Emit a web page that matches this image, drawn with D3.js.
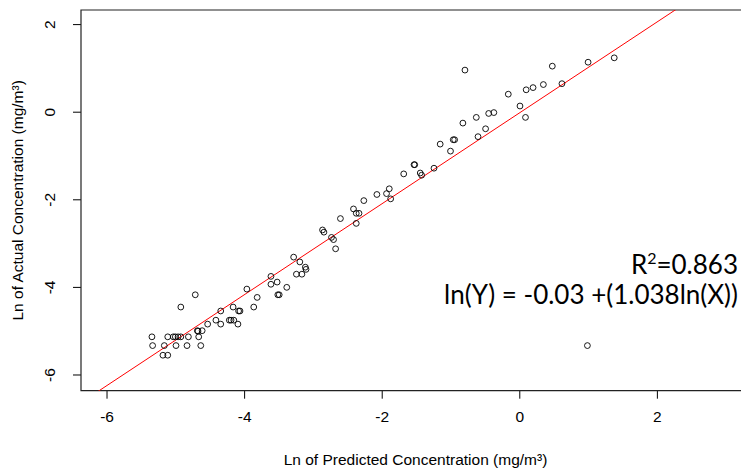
<!DOCTYPE html>
<html>
<head>
<meta charset="utf-8">
<script src="https://cdn.jsdelivr.net/npm/d3@7"></script>
<style>
  body { margin: 0; background: #fff; }
  svg { display: block; }
  .tick text { font-family: "Liberation Sans", Arial, sans-serif; }
</style>
</head>
<body>
<div id="chart"></div>
<script>
// Ln predicted (x) and ln actual (y) concentrations
const predicted = [
  -5.34, -5.33, -5.18, -5.11, -5.16, -5.11, -5.03, -5.00, -4.96, -4.92,
  -4.99, -4.92, -4.83, -4.81, -4.71, -4.68, -4.67, -4.66, -4.63, -4.61,
  -4.53, -4.41, -4.34, -4.34, -4.215, -4.19, -4.15, -4.16, -4.08, -4.06,
  -4.09, -3.96, -3.86, -3.81, -3.61, -3.61, -3.52, -3.51, -3.49, -3.38,
  -3.28, -3.24, -3.19, -3.16, -3.11, -3.10, -2.86, -2.84, -2.73, -2.70,
  -2.67, -2.60, -2.41, -2.37, -2.37, -2.33, -2.26, -2.07, -1.93, -1.89,
  -1.87, -1.68, -1.53, -1.52, -1.44, -1.42, -1.24, -1.15, -1.00, -0.96,
  -0.94, -0.82, -0.79, -0.625, -0.60, -0.49, -0.445, -0.37, -0.16, 0.01,
  0.09, 0.10, 0.20, 0.35, 0.48, 0.62, 1.00, 1.38, 0.99
];
const actual = [
  -5.14, -5.34, -5.56, -5.56, -5.34, -5.14, -5.14, -5.14, -5.14, -5.14,
  -5.34, -4.46, -5.34, -5.14, -4.18, -5.00, -5.01, -5.14, -5.34, -5.00,
  -4.85, -4.76, -4.55, -4.85, -4.76, -4.76, -4.76, -4.46, -4.55, -4.55,
  -4.85, -4.05, -4.46, -4.24, -3.76, -3.94, -3.89, -4.18, -4.18, -4.01,
  -3.32, -3.71, -3.43, -3.71, -3.55, -3.60, -2.70, -2.75, -2.87, -2.92,
  -3.13, -2.44, -2.22, -2.55, -2.32, -2.32, -2.03, -1.89, -1.87, -1.76,
  -1.99, -1.42, -1.21, -1.21, -1.40, -1.45, -1.29, -0.74, -0.90, -0.64,
  -0.64, -0.26, 0.95, -0.13, -0.57, -0.39, -0.04, -0.02, 0.40, 0.13,
  -0.13, 0.50, 0.55, 0.62, 1.04, 0.64, 1.13, 1.23, -5.34
];
const xTicks = [-6, -4, -2, 0, 2];
const yTicks = [-6, -4, -2, 0, 2];
const intercept = -0.03;
const slope = 1.038;
const r2Label = "0.863";
const eqLabel = "ln(Y) = -0.03 +(1.038ln(X))";

const width = 741, height = 468;
const margin = {top: 10, left: 81, bottom: 77.3};
const plotRight = 770.4; // frame runs off the right side of the picture

const svg = d3.select("#chart").append("svg")
    .attr("width", width)
    .attr("height", height);

const x = d3.scaleLinear()
    .domain([-6.371, 3.65])
    .range([margin.left, plotRight]);

const y = d3.scaleLinear()
    .domain([-6.37, 2.322])
    .range([height - margin.bottom, margin.top]);

const data = predicted.map((p, i) => ({x: p, y: actual[i]}));

svg.append("clipPath").attr("id", "plot-clip")
  .append("rect")
    .attr("x", margin.left)
    .attr("y", margin.top)
    .attr("width", plotRight - margin.left)
    .attr("height", y.range()[0] - margin.top);

// X axis
const xAxis = svg.append("g")
    .attr("transform", `translate(0,${y.range()[0]})`)
    .call(d3.axisBottom(x).tickValues(xTicks).tickSize(8).tickPadding(12).tickFormat(d => d));
xAxis.select(".domain").remove();
xAxis.selectAll(".tick line").attr("stroke", "#000");
xAxis.selectAll(".tick text").attr("font-size", 15.5).attr("fill", "#000");

// Y axis, labels rotated like R's default
const yAxis = svg.append("g")
    .attr("transform", `translate(${margin.left},0)`)
    .call(d3.axisLeft(y).tickValues(yTicks).tickSize(8).tickFormat(d => d));
yAxis.select(".domain").remove();
yAxis.selectAll(".tick line").attr("stroke", "#000");
yAxis.selectAll(".tick text")
    .attr("font-size", 15.5)
    .attr("fill", "#000")
    .attr("x", null).attr("dy", null)
    .attr("text-anchor", "middle")
    .attr("dominant-baseline", "central")
    .attr("transform", "translate(-32,0) rotate(-90)");

// Frame
svg.append("path")
    .attr("d", `M${plotRight},${margin.top}H${margin.left}V${y.range()[0]}H${plotRight}`)
    .attr("fill", "none")
    .attr("stroke", "#222")
    .attr("stroke-width", 1.2);

// Fitted line
svg.append("line")
    .attr("clip-path", "url(#plot-clip)")
    .attr("x1", x(-6.4)).attr("y1", y(intercept + slope * -6.4))
    .attr("x2", x(3)).attr("y2", y(intercept + slope * 3))
    .attr("stroke", "red")
    .attr("stroke-width", 1);

// Points
svg.selectAll("circle.pt")
    .data(data)
    .enter()
    .append("circle")
    .attr("class", "pt")
    .attr("cx", d => x(d.x))
    .attr("cy", d => y(d.y))
    .attr("r", 2.9)
    .attr("fill", "none")
    .attr("stroke", "#000")
    .attr("stroke-width", 0.9);

// Axis titles
svg.append("text")
    .attr("x", 415.5)
    .attr("y", 459)
    .attr("text-anchor", "middle")
    .attr("dominant-baseline", "central")
    .attr("font-family", "Liberation Sans, Arial, sans-serif")
    .attr("font-size", 15.5)
    .text("Ln of Predicted Concentration (mg/m³)");

svg.append("text")
    .attr("transform", `translate(17,${(margin.top + y.range()[0]) / 2}) rotate(-90)`)
    .attr("text-anchor", "middle")
    .attr("dominant-baseline", "central")
    .attr("font-family", "Liberation Sans, Arial, sans-serif")
    .attr("font-size", 15.5)
    .text("Ln of Actual Concentration (mg/m³)");

// Annotation
const ann = svg.append("g")
    .attr("font-family", "Lato, 'Open Sans', sans-serif")
    .attr("font-size", 26)
    .attr("fill", "#000");

const r2 = ann.append("text")
    .attr("x", 738)
    .attr("y", 274)
    .attr("text-anchor", "end");
r2.append("tspan").text("R");
r2.append("tspan").attr("font-size", 16).attr("dy", -10).text("2");
r2.append("tspan").attr("dy", 10).text("=" + r2Label);

ann.append("text")
    .attr("x", 738)
    .attr("y", 304)
    .attr("text-anchor", "end")
    .text(eqLabel);
</script>
</body>
</html>
